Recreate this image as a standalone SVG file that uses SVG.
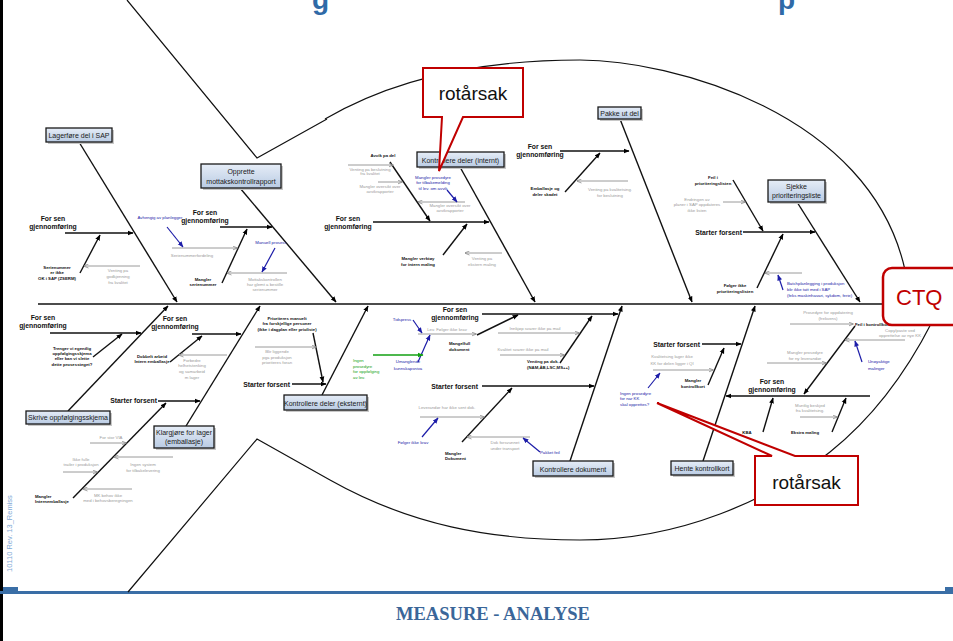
<svg xmlns="http://www.w3.org/2000/svg" width="953" height="641" viewBox="0 0 953 641">
<defs>
  <linearGradient id="boxfill" x1="0" y1="0" x2="0" y2="1">
    <stop offset="0" stop-color="#e6edf7"/>
    <stop offset="1" stop-color="#b9cbe3"/>
  </linearGradient>
  <marker id="ah" viewBox="0 0 10 10" refX="9" refY="5" markerWidth="6" markerHeight="6" markerUnits="userSpaceOnUse" orient="auto">
    <path d="M0,1 L10,5 L0,9 z" fill="#000"/>
  </marker>
  <marker id="ahg" viewBox="0 0 10 10" refX="9" refY="5" markerWidth="5" markerHeight="5" markerUnits="userSpaceOnUse" orient="auto">
    <path d="M0,1 L10,5 L0,9" fill="none" stroke="#8a8a8a" stroke-width="1.6"/>
  </marker>
  <marker id="ahb" viewBox="0 0 10 10" refX="9" refY="5" markerWidth="6" markerHeight="6" markerUnits="userSpaceOnUse" orient="auto">
    <path d="M0,1 L10,5 L0,9 z" fill="#1c1ca8"/>
  </marker>
  <marker id="ahn" viewBox="0 0 10 10" refX="9" refY="5" markerWidth="6" markerHeight="6" markerUnits="userSpaceOnUse" orient="auto">
    <path d="M0,1 L10,5 L0,9 z" fill="#12a012"/>
  </marker>
  <style>
    .fish{fill:none;stroke:#111;stroke-width:1.2}
    .spine{fill:none;stroke:#111;stroke-width:1.5}
    .bone{fill:none;stroke:#111;stroke-width:1.4;marker-end:url(#ah)}
    .gr{fill:none;stroke:#9a9a9a;stroke-width:1;marker-end:url(#ahg)}
    .bl{fill:none;stroke:#1c1ca8;stroke-width:1.2;marker-end:url(#ahb)}
    .gn{fill:none;stroke:#12a012;stroke-width:1.3;marker-end:url(#ahn)}
    .box{fill:url(#boxfill);stroke:#1a1a1a;stroke-width:1.3}
    .shadow{fill:#c8c8c8;stroke:none}
    .bx{font-family:"Liberation Sans",Arial,sans-serif;font-size:7px;fill:#1a1a1a;text-anchor:middle}
    .h{font-family:"Liberation Sans",Arial,sans-serif;font-size:6.8px;font-weight:bold;fill:#111;text-anchor:middle}
    .he{font-family:"Liberation Sans",Arial,sans-serif;font-size:6.8px;font-weight:bold;fill:#111;text-anchor:end}
    .t{font-family:"Liberation Sans",Arial,sans-serif;font-size:4.3px;font-weight:bold;fill:#111;text-anchor:middle}
    .tl{font-family:"Liberation Sans",Arial,sans-serif;font-size:4.3px;font-weight:bold;fill:#111}
    .g{font-family:"Liberation Sans",Arial,sans-serif;font-size:4.3px;fill:#9a9a9a;text-anchor:middle}
    .b{font-family:"Liberation Sans",Arial,sans-serif;font-size:4.3px;fill:#1c1ca8;text-anchor:middle}
    .bll{font-family:"Liberation Sans",Arial,sans-serif;font-size:4.3px;fill:#1c1ca8}
    .n{font-family:"Liberation Sans",Arial,sans-serif;font-size:4.3px;fill:#12a012}
    .callout{fill:#fff;stroke:#c00000;stroke-width:2;stroke-linejoin:miter}
    .ct{font-family:"Liberation Sans",Arial,sans-serif;font-size:19px;fill:#111;text-anchor:middle}
  </style>
</defs>

<rect x="0" y="0" width="953" height="641" fill="#fff"/>

<!-- page frame, footer and heading fragments -->
<g id="frame">
  <line x1="1.5" y1="0" x2="1.5" y2="641" stroke="#000" stroke-width="3"/>
  <rect x="0" y="591" width="953" height="3" fill="#3a6ea6"/>
  <rect x="3" y="587" width="15" height="6" fill="#3a6ea6"/>
  <rect x="945" y="587" width="8" height="6" fill="#3a6ea6"/>
  <text x="493" y="620" font-family="'Liberation Serif','Times New Roman',serif" font-size="18" font-weight="bold" fill="#3a6699" text-anchor="middle" textLength="194" lengthAdjust="spacingAndGlyphs">MEASURE - ANALYSE</text>
  <text transform="translate(12,572) rotate(-90)" font-family="'Liberation Sans',Arial,sans-serif" font-size="7.5" fill="#7fa9d6">10110 Rev. 13_Remiss</text>
  <text x="312" y="9" font-family="'Liberation Sans',Arial,sans-serif" font-size="28" font-weight="bold" fill="#2f6aa7">g</text>
  <text x="778" y="9" font-family="'Liberation Sans',Arial,sans-serif" font-size="28" font-weight="bold" fill="#2f6aa7">p</text>
</g>

<!-- fish outline -->
<g id="fish">
  <path class="fish" d="M127,0 L257,158 L327,119"/>
  <path class="fish" d="M128,592 L257,439 L330,480"/>
  <path class="fish" d="M325,119 C400,75 490,60 580,60 C670,60 870,112 905,270"/>
  <path class="fish" d="M330,480 C410,525 490,540 580,540 C680,540 770,500 830,452 C870,420 905,375 932,322"/>
</g>

<!-- spine, bones and cause arrows -->
<g id="connectors">
  <path class="spine" d="M38,304 H886"/>
  <!-- main bones -->
  <path class="bone" d="M79,142 L177,302"/>
  <path class="bone" d="M240,188 L336,302"/>
  <path class="bone" d="M460,167 L535,302"/>
  <path class="bone" d="M620,119 L692,302"/>
  <path class="bone" d="M797,202 L860,302"/>
  <path class="bone" d="M68,411 L168,306"/>
  <path class="bone" d="M186,426 L260,306"/>
  <path class="bone" d="M322,395 L368,306"/>
  <path class="bone" d="M570,461 L622,306"/>
  <path class="bone" d="M703,461 L755,306"/>
  <!-- sub bones -->
  <path class="bone" d="M65,233 L133,233"/>
  <path class="bone" d="M80,273 L100,235"/>
  <path class="bone" d="M220,227 L272,227"/>
  <path class="bone" d="M222,283 L247,229"/>
  <path class="bone" d="M373,222 L489,222"/>
  <path class="bone" d="M390,162 L430,221"/>
  <path class="bone" d="M443,255 L467,224"/>
  <path class="bone" d="M560,151 L629,151"/>
  <path class="bone" d="M565,192 L600,153"/>
  <path class="bone" d="M743,232 L815,232"/>
  <path class="bone" d="M733,180 L763,231"/>
  <path class="bone" d="M757,288 L783,234"/>
  <path class="bone" d="M50,333 L141,333"/>
  <path class="bone" d="M93,357 L122,334"/>
  <path class="bone" d="M192,334 L241,334"/>
  <path class="bone" d="M170,362 L202,336"/>
  <path class="bone" d="M158,401 L200,401"/>
  <path class="bone" d="M73,498 L166,403"/>
  <path class="bone" d="M292,384 L326,384"/>
  <path class="bone" d="M313,333 L323,382"/>
  <path class="bone" d="M482,314 L618,314"/>
  <path class="bone" d="M477,335 L518,315"/>
  <path class="bone" d="M560,363 L592,316"/>
  <path class="bone" d="M482,386 L594,386"/>
  <path class="bone" d="M462,442 L512,388"/>
  <path class="bone" d="M702,344 L741,344"/>
  <path class="bone" d="M708,385 L724,348"/>
  <path class="bone" d="M870,396 L726,396"/>
  <path class="bone" d="M855,326 L804,394"/>
  <path class="bone" d="M763,432 L773,398"/>
  <path class="bone" d="M832,432 L846,398"/>
  <!-- grey cause arrows -->
  <path class="gr" d="M140,266 L84,266"/>
  <path class="gr" d="M172,248 L237,248"/>
  <path class="gr" d="M287,273 L227,273"/>
  <path class="gr" d="M348,165 L393,165"/>
  <path class="gr" d="M378,182 L402,182"/>
  <path class="gr" d="M465,202 L418,202"/>
  <path class="gr" d="M502,253 L465,253"/>
  <path class="gr" d="M628,181 L577,181"/>
  <path class="gr" d="M723,202 L745,202"/>
  <path class="gr" d="M802,273 L765,273"/>
  <path class="gr" d="M227,355 L179,355"/>
  <path class="gr" d="M255,347 L316,347"/>
  <path class="gr" d="M418,334 L476,334"/>
  <path class="gr" d="M498,333 L579,333"/>
  <path class="gr" d="M500,355 L564,355"/>
  <path class="gr" d="M420,417 L484,417"/>
  <path class="gr" d="M530,437 L467,437"/>
  <path class="gr" d="M653,370 L713,370"/>
  <path class="gr" d="M790,324 L853,324"/>
  <path class="gr" d="M905,340 L845,340"/>
  <path class="gr" d="M767,363 L826,363"/>
  <path class="gr" d="M800,417 L837,417"/>
  <path class="gr" d="M90,443 L126,443"/>
  <path class="gr" d="M63,472 L97,472"/>
  <path class="gr" d="M173,457 L114,457"/>
  <path class="gr" d="M132,489 L83,489"/>
  <!-- blue and green notes -->
  <path class="bl" d="M167,227 L183,247"/>
  <path class="bl" d="M275,248 L262,272"/>
  <path class="bl" d="M447,190 L457,202"/>
  <path class="bl" d="M783,290 L778,275"/>
  <path class="bl" d="M413,320 L422,333"/>
  <path class="bl" d="M418,362 L430,335"/>
  <path class="bl" d="M422,437 L438,418"/>
  <path class="bl" d="M540,452 L523,438"/>
  <path class="bl" d="M648,388 L660,373"/>
  <path class="bl" d="M862,362 L855,341"/>
  <path class="gn" d="M373,355 L423,355"/>
</g>

<!-- category: Lagerføre del i SAP -->
<g id="lagerfore">
  <rect class="shadow" x="48" y="130" width="66" height="14"/>
  <rect class="box" x="46" y="128" width="66" height="14"/>
  <text class="bx" x="79" y="137.5">Lagerføre del i SAP</text>
  <text class="h" x="53" y="220.5">For sen</text>
  <text class="h" x="53" y="229">gjennomføring</text>
  <text class="t" x="57" y="268.5">Serienummer</text>
  <text class="t" x="57" y="273.5">er ikke</text>
  <text class="t" x="57" y="279.5">OK i SAP (ZSERM)</text>
  <text class="g" x="118" y="271.5">Venting på</text>
  <text class="g" x="118" y="277.5">godkjenning</text>
  <text class="g" x="118" y="284">fra kvalitet</text>
</g>

<!-- category: Opprette mottakskontrollrapport -->
<g id="opprette">
  <rect class="shadow" x="203" y="166" width="80" height="24"/>
  <rect class="box" x="201" y="164" width="80" height="24"/>
  <text class="bx" x="241" y="174" font-size="7.5">Opprette</text>
  <text class="bx" x="241" y="183.5" font-size="7.5">mottakskontrollrapport</text>
  <text class="h" x="205" y="214.5">For sen</text>
  <text class="h" x="205" y="223">gjennomføring</text>
  <text class="b" x="160" y="218.5">Avhengig av planlegger</text>
  <text class="g" x="192" y="256.5">Serienummerfordeling</text>
  <text class="b" x="271" y="244">Manuell prosess</text>
  <text class="t" x="203" y="281">Mangler</text>
  <text class="t" x="203" y="285.5">serienummer</text>
  <text class="g" x="265" y="280.5">Mottakskontrollen</text>
  <text class="g" x="265" y="285.5">har glemt å bestille</text>
  <text class="g" x="265" y="290.5">serienummer</text>
</g>

<!-- category: Kontrollere deler (internt) -->
<g id="kontrollere-internt">
  <rect class="shadow" x="419" y="154" width="87" height="15"/>
  <rect class="box" x="417" y="152" width="87" height="15"/>
  <text class="bx" x="460.5" y="162.5">Kontrollere deler (internt)</text>
  <text class="t" x="383" y="156.5">Avvik på del</text>
  <text class="g" x="370" y="170.5">Venting på beslutning</text>
  <text class="g" x="370" y="175">fra kvalitet</text>
  <text class="g" x="380" y="188">Mangler oversikt over</text>
  <text class="g" x="380" y="193">avvikrapporter</text>
  <text class="b" x="433" y="178.5">Mangler prosedyre</text>
  <text class="b" x="433" y="184">for tilbakemelding</text>
  <text class="b" x="433" y="189.5">til lev. om avvik</text>
  <text class="g" x="450" y="206.5">Mangler oversikt over</text>
  <text class="g" x="450" y="211.5">avvikrapporter</text>
  <text class="h" x="348" y="220.5">For sen</text>
  <text class="h" x="348" y="229">gjennomføring</text>
  <text class="t" x="418" y="259.5">Mangler verktøy</text>
  <text class="t" x="418" y="266">for intern måling</text>
  <text class="g" x="482" y="259.5">Venting på</text>
  <text class="g" x="482" y="266">ekstern måling</text>
</g>

<!-- category: Pakke ut del -->
<g id="pakke-ut">
  <rect class="shadow" x="600" y="109" width="43" height="12"/>
  <rect class="box" x="598" y="107" width="43" height="12"/>
  <text class="bx" x="619.5" y="115.5" font-size="6.5">Pakke ut del</text>
  <text class="h" x="540" y="148.5">For sen</text>
  <text class="h" x="540" y="157">gjennomføring</text>
  <text class="t" x="545" y="189.5">Emballasje og</text>
  <text class="t" x="545" y="195.5">deler skadet</text>
  <text class="g" x="610" y="190.5">Venting på kvalitetsing.</text>
  <text class="g" x="610" y="196.5">for beslutning</text>
</g>

<!-- category: Sjekke prioriteringsliste -->
<g id="sjekke">
  <rect class="shadow" x="770" y="182" width="57" height="22"/>
  <rect class="box" x="768" y="180" width="57" height="22"/>
  <text class="bx" x="796.5" y="189" font-size="7.5">Sjekke</text>
  <text class="bx" x="796.5" y="198" font-size="7.5">prioriteringsliste</text>
  <text class="t" x="713" y="178.5">Feil i</text>
  <text class="t" x="713" y="184.5">prioriteringslisten</text>
  <text class="g" x="697" y="200.5">Endringen av</text>
  <text class="g" x="697" y="206">planer i SAP oppdateres</text>
  <text class="g" x="697" y="211.5">ikke listen</text>
  <text class="he" x="742" y="234.5">Starter forsent</text>
  <text class="t" x="735" y="286.5">Følger ikke</text>
  <text class="t" x="735" y="292.5">prioriteringslisten</text>
  <text class="bll" x="787" y="284.5">Batchplanlegging i produksjon</text>
  <text class="bll" x="787" y="290.5">blir ikke tatt med i SAP</text>
  <text class="bll" x="787" y="296.5">(feks maskinhavari, sykdom, ferie)</text>
</g>

<!-- category: Skrive oppfølgingsskjema -->
<g id="skrive">
  <rect class="shadow" x="28" y="413" width="84" height="13"/>
  <rect class="box" x="26" y="411" width="84" height="13"/>
  <text class="bx" x="68" y="420" font-size="6.5">Skrive oppfølgingsskjema</text>
  <text class="h" x="43" y="319.5">For sen</text>
  <text class="h" x="43" y="328">gjennomføring</text>
  <text class="t" x="72" y="350">Trenger vi egentlig</text>
  <text class="t" x="72" y="355">oppfølgingsskjema</text>
  <text class="t" x="72" y="360">eller kan vi slette</text>
  <text class="t" x="72" y="365.5">dette prosessteget?</text>
</g>

<!-- category: Klargjøre for lager (emballasje) -->
<g id="klargjore">
  <rect class="shadow" x="156" y="428" width="60" height="22"/>
  <rect class="box" x="154" y="426" width="60" height="22"/>
  <text class="bx" x="184" y="435">Klargjøre for lager</text>
  <text class="bx" x="184" y="444">(emballasje)</text>
  <text class="h" x="175" y="320.5">For sen</text>
  <text class="h" x="175" y="329">gjennomføring</text>
  <text class="t" x="152" y="357.5">Dobbelt arbeid</text>
  <text class="t" x="152" y="362.5">Intern emballasje</text>
  <text class="g" x="192" y="361.5">Forbedre</text>
  <text class="g" x="192" y="367">helhetstenking</text>
  <text class="g" x="192" y="373">og samarbeid</text>
  <text class="g" x="192" y="379">m lager</text>
  <text class="he" x="157" y="402.5">Starter forsent</text>
  <text class="g" x="111" y="438.5">For stor VIA</text>
  <text class="g" x="81" y="460.5">Ikke fulle</text>
  <text class="g" x="81" y="465.5">trailer i produksjon</text>
  <text class="g" x="143" y="465.5">Ingen system</text>
  <text class="g" x="143" y="471.5">for tilbakelevering</text>
  <text class="tl" x="35" y="497.5">Mangler</text>
  <text class="tl" x="35" y="502.5">Internemballasje</text>
  <text class="g" x="108" y="496.5">MK behov ikke</text>
  <text class="g" x="108" y="501.5">med i behovsberegningen</text>
</g>

<!-- category: Kontrollere deler (eksternt) -->
<g id="kontrollere-eksternt">
  <rect class="shadow" x="286" y="397" width="83" height="15"/>
  <rect class="box" x="284" y="395" width="83" height="15"/>
  <text class="bx" x="325.5" y="405.5" font-size="6.6">Kontrollere deler (eksternt)</text>
  <text class="t" x="287" y="319.5">Prioriteres manuelt</text>
  <text class="t" x="287" y="325">fra forskjellige personer</text>
  <text class="t" x="287" y="331">(ikke i dagplan eller prioliste)</text>
  <text class="g" x="277" y="353">Blir liggende</text>
  <text class="g" x="277" y="358.5">pga produksjon</text>
  <text class="g" x="277" y="364">prioriteres foran</text>
  <text class="he" x="290" y="386.5">Starter forsent</text>
</g>

<!-- category: Kontrollere dokument -->
<g id="kontrollere-dokument">
  <rect class="shadow" x="535" y="463" width="80" height="15"/>
  <rect class="box" x="533" y="461" width="80" height="15"/>
  <text class="bx" x="573" y="471.5">Kontrollere dokument</text>
  <text class="h" x="455" y="311.5">For sen</text>
  <text class="h" x="455" y="320">gjennomføring</text>
  <text class="b" x="402" y="320.5">Tidspress</text>
  <text class="g" x="447" y="330.5">Lev. Følger ikke krav</text>
  <text class="g" x="535" y="329.5">Innkjøp svarer ikke på mail</text>
  <text class="tl" x="449" y="345">Mangelfull</text>
  <text class="tl" x="449" y="351">dokument</text>
  <text class="g" x="523" y="350.5">Kvalitet svarer ikke på mail</text>
  <text class="n" x="353" y="361.5">Ingen</text>
  <text class="n" x="353" y="367.5">prosedyre</text>
  <text class="n" x="353" y="373">for oppfølging</text>
  <text class="n" x="353" y="379">av lev.</text>
  <text class="b" x="408" y="363">Umanglende</text>
  <text class="b" x="408" y="369.5">kunnskapsnivå</text>
  <text class="tl" x="527" y="363">Venting på dok.</text>
  <text class="tl" x="527" y="368.5">(NAM,ÅB,LSC,MS++)</text>
  <text class="he" x="478" y="388.5">Starter forsent</text>
  <text class="g" x="447" y="408.5">Leverandør har ikke sent dok.</text>
  <text class="b" x="413" y="443.5">Følger ikke krav</text>
  <text class="g" x="505" y="443.5">Dok forsvunnet</text>
  <text class="g" x="505" y="449.5">under transport</text>
  <text class="bll" x="540" y="453.5">Pakket feil</text>
  <text class="tl" x="445" y="454.5">Mangler</text>
  <text class="tl" x="445" y="460">Dokument</text>
</g>

<!-- category: Hente kontrollkort -->
<g id="hente">
  <rect class="shadow" x="673" y="463" width="62" height="14"/>
  <rect class="box" x="671" y="461" width="62" height="14"/>
  <text class="bx" x="702" y="471">Hente kontrollkort</text>
  <text class="he" x="700" y="346.5">Starter forsent</text>
  <text class="g" x="672" y="358">Kvalitetsing lager ikke</text>
  <text class="g" x="672" y="364.5">KK for delen ligger i QI</text>
  <text class="t" x="693" y="381.5">Mangler</text>
  <text class="t" x="693" y="388">kontrollkort</text>
  <text class="bll" x="620" y="394.5">Ingen prosedyre</text>
  <text class="bll" x="620" y="399.5">for når KK</text>
  <text class="bll" x="620" y="406">skal opprettes?</text>
  <text class="g" x="828" y="314">Prosedyre for oppdatering</text>
  <text class="g" x="828" y="319.5">(frekvens)</text>
  <text class="tl" x="855" y="326">Feil i kontrollkort</text>
  <text class="g" x="900" y="331.5">Copy/paste ved</text>
  <text class="g" x="900" y="336.5">opprettelse av nye KK</text>
  <text class="g" x="805" y="354">Mangler prosedyre</text>
  <text class="g" x="805" y="359.5">for ny leverandør</text>
  <text class="bll" x="868" y="363">Unøyaktige</text>
  <text class="bll" x="868" y="369.5">målinger</text>
  <text class="h" x="772" y="383.5">For sen</text>
  <text class="h" x="772" y="392">gjennomføring</text>
  <text class="g" x="810" y="406.5">Muntlig beskjed</text>
  <text class="g" x="810" y="411.5">fra kvalitetsing.</text>
  <text class="t" x="747" y="433.5">KBA</text>
  <text class="t" x="805" y="433.5">Ekstra måling</text>
</g>

<!-- root cause callouts -->
<g id="rotarsak-top">
  <path class="callout" d="M423,68 H523 V117 H463 L439,171 L442,117 H423 Z"/>
  <text class="ct" x="473" y="100">rotårsak</text>
</g>
<g id="rotarsak-bottom">
  <path class="callout" d="M755,456 H772 L657,403 L795,456 H858 V505 H755 Z"/>
  <text class="ct" x="806.5" y="489">rotårsak</text>
</g>

<!-- effect -->
<g id="ctq">
  <rect x="883" y="268" width="90" height="57" rx="9" fill="#fff" stroke="#c00000" stroke-width="2.5"/>
  <text x="896" y="305" font-family="'Liberation Sans',Arial,sans-serif" font-size="22" fill="#c00000">CTQ</text>
</g>
</svg>
